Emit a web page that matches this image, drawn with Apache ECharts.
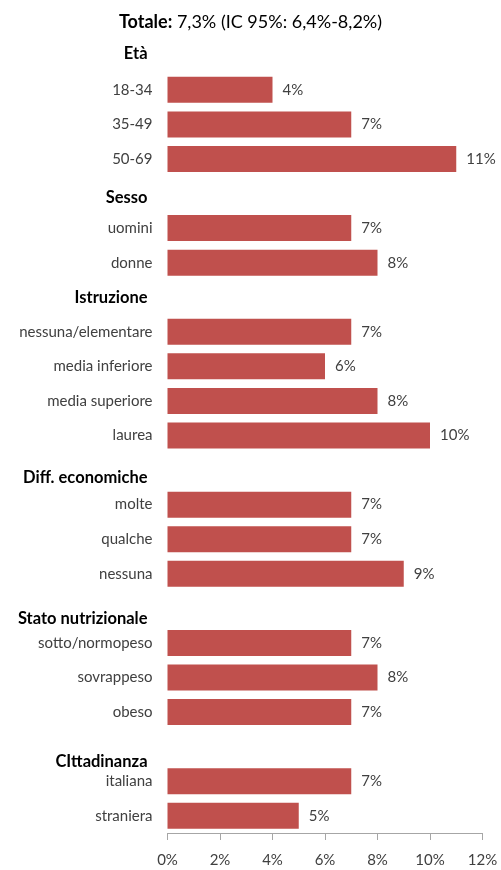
<!DOCTYPE html>
<html>
<head>
<meta charset="utf-8">
<script src="https://cdn.jsdelivr.net/npm/echarts@6/dist/echarts.min.js"></script>
<style>
  html, body { margin: 0; padding: 0; background: #fff; }
  #chart { width: 501px; height: 870px; }
</style>
</head>
<body>
<div id="chart"></div>
<script>
// Rows of the chart, top to bottom; group headings have no bar.
const categories = [
  'Età', '18-34', '35-49', '50-69',
  'Sesso', 'uomini', 'donne',
  'Istruzione', 'nessuna/elementare', 'media inferiore', 'media superiore', 'laurea',
  'Diff. economiche', 'molte', 'qualche', 'nessuna',
  'Stato nutrizionale', 'sotto/normopeso', 'sovrappeso', 'obeso',
  'CIttadinanza', 'italiana', 'straniera'
];
const headings = ['Età', 'Sesso', 'Istruzione', 'Diff. economiche', 'Stato nutrizionale', 'CIttadinanza'];
const values = [
  null, 4, 7, 11,
  null, 7, 8,
  null, 7, 6, 8, 10,
  null, 7, 7, 9,
  null, 7, 8, 7,
  null, 7, 5
];
const xTicks = [0, 2, 4, 6, 8, 10, 12];
const titleBold = 'Totale:';
const titleRest = ' 7,3% (IC 95%: 6,4%-8,2%)';

const FONT = 'Lato';
// vertical nudge (px) of each heading relative to its row
const headingShift = [-2, 4, 0, 8, 10, 15];

const rich = {
  c: { fontFamily: FONT, fontSize: 15, color: '#404040' }
};
headingShift.forEach((d, i) => {
  rich['h' + i] = {
    fontFamily: FONT, fontSize: 16.5, fontWeight: 'bold', color: '#000',
    padding: [d > 0 ? 2 * d : 0, 5, d < 0 ? -2 * d : 0, 0]
  };
});

const chart = echarts.init(document.getElementById('chart'), null, { renderer: 'canvas' });
chart.setOption({
  animation: false,
  backgroundColor: '#fff',
  title: {
    text: '{b|' + titleBold + '}{r|' + titleRest + '}',
    left: 'center',
    top: 8,
    textStyle: {
      fontWeight: 'normal',
      rich: {
        b: { fontFamily: FONT, fontSize: 18, fontWeight: 'bold', color: '#000' },
        r: { fontFamily: FONT, fontSize: 18, fontWeight: 'normal', color: '#000' }
      }
    }
  },
  grid: { left: 167.5, right: 18.5, top: 38, bottom: 37, containLabel: false },
  xAxis: {
    type: 'value',
    min: xTicks[0],
    max: xTicks[xTicks.length - 1],
    interval: 2,
    axisLine: { show: true, lineStyle: { color: '#a6a6a6', width: 1 } },
    axisTick: { show: true, length: 7, lineStyle: { color: '#a6a6a6' } },
    splitLine: { show: false },
    axisLabel: {
      formatter: '{value}%',
      fontFamily: FONT, fontSize: 15, color: '#404040', margin: 20
    }
  },
  yAxis: {
    type: 'category',
    inverse: true,
    data: categories,
    axisLine: { show: false },
    axisTick: { show: false },
    axisLabel: {
      margin: 15,
      interval: 0,
      formatter: function (v) {
        const h = headings.indexOf(v);
        return h >= 0 ? '{h' + h + '|' + v + '}' : '{c|' + v + '}';
      },
      rich: rich
    }
  },
  series: [{
    type: 'bar',
    data: values,
    barWidth: 26,
    itemStyle: { color: '#C0504D' },
    label: {
      show: true,
      position: 'right',
      distance: 10,
      formatter: p => p.value == null ? '' : p.value + '%',
      fontFamily: FONT, fontSize: 15, color: '#404040'
    }
  }]
});
</script>
</body>
</html>
